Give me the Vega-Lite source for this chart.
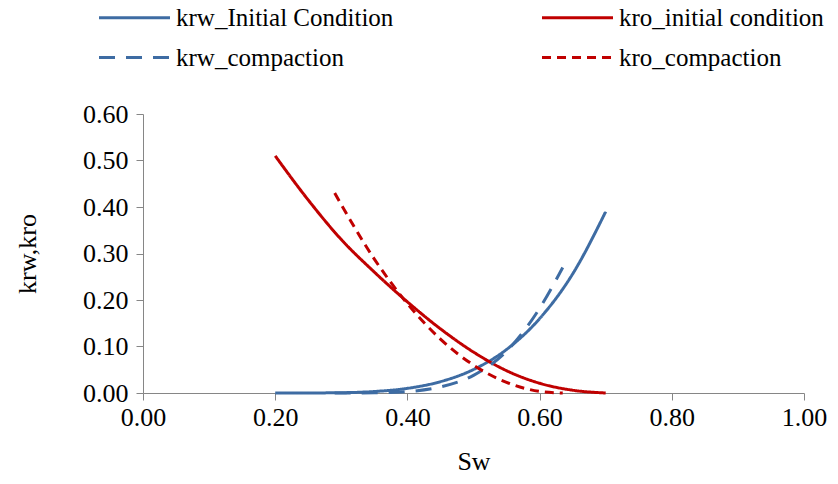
{
  "$schema": "https://vega.github.io/schema/vega-lite/v6.json",
  "width": 661,
  "height": 279,
  "autosize": {"type": "none"},
  "padding": {"left": 143, "top": 114, "right": 34, "bottom": 91},
  "background": "white",
  "config": {
    "view": {"stroke": null},
    "font": "Liberation Serif",
    "axis": {"labelFont": "Liberation Serif", "titleFont": "Liberation Serif", "labelColor": "black", "titleColor": "black", "titleFontWeight": "normal"},
    "legend": {"labelFont": "Liberation Serif"}
  },
  "data": {
    "values": [
      {"series": "krw_Initial Condition", "Sw": 0.2, "k": 0},
      {"series": "krw_Initial Condition", "Sw": 0.25, "k": 0.0001},
      {"series": "krw_Initial Condition", "Sw": 0.3, "k": 0.0006},
      {"series": "krw_Initial Condition", "Sw": 0.35, "k": 0.0032},
      {"series": "krw_Initial Condition", "Sw": 0.4, "k": 0.010},
      {"series": "krw_Initial Condition", "Sw": 0.45, "k": 0.0244},
      {"series": "krw_Initial Condition", "Sw": 0.5, "k": 0.0505},
      {"series": "krw_Initial Condition", "Sw": 0.55, "k": 0.0936},
      {"series": "krw_Initial Condition", "Sw": 0.6, "k": 0.16},
      {"series": "krw_Initial Condition", "Sw": 0.65, "k": 0.256},
      {"series": "krw_Initial Condition", "Sw": 0.7, "k": 0.39},
      {"series": "kro_initial condition", "Sw": 0.2, "k": 0.51},
      {"series": "kro_initial condition", "Sw": 0.25, "k": 0.415},
      {"series": "kro_initial condition", "Sw": 0.3, "k": 0.33},
      {"series": "kro_initial condition", "Sw": 0.35, "k": 0.26},
      {"series": "kro_initial condition", "Sw": 0.4, "k": 0.196},
      {"series": "kro_initial condition", "Sw": 0.45, "k": 0.138},
      {"series": "kro_initial condition", "Sw": 0.5, "k": 0.088},
      {"series": "kro_initial condition", "Sw": 0.55, "k": 0.048},
      {"series": "kro_initial condition", "Sw": 0.6, "k": 0.021},
      {"series": "kro_initial condition", "Sw": 0.65, "k": 0.006},
      {"series": "kro_initial condition", "Sw": 0.7, "k": 0},
      {"series": "krw_compaction", "Sw": 0.29, "k": 0},
      {"series": "krw_compaction", "Sw": 0.35, "k": 0.0003},
      {"series": "krw_compaction", "Sw": 0.4, "k": 0.003},
      {"series": "krw_compaction", "Sw": 0.45, "k": 0.013},
      {"series": "krw_compaction", "Sw": 0.5, "k": 0.038},
      {"series": "krw_compaction", "Sw": 0.55, "k": 0.09},
      {"series": "krw_compaction", "Sw": 0.6, "k": 0.182},
      {"series": "krw_compaction", "Sw": 0.635, "k": 0.27},
      {"series": "kro_compaction", "Sw": 0.29, "k": 0.43},
      {"series": "kro_compaction", "Sw": 0.35, "k": 0.288},
      {"series": "kro_compaction", "Sw": 0.4, "k": 0.192},
      {"series": "kro_compaction", "Sw": 0.45, "k": 0.116},
      {"series": "kro_compaction", "Sw": 0.5, "k": 0.06},
      {"series": "kro_compaction", "Sw": 0.55, "k": 0.023},
      {"series": "kro_compaction", "Sw": 0.6, "k": 0.0035},
      {"series": "kro_compaction", "Sw": 0.635, "k": 0}
    ]
  },
  "mark": {"type": "line", "strokeWidth": 3, "interpolate": "monotone"},
  "encoding": {
    "x": {
      "field": "Sw", "type": "quantitative",
      "scale": {"domain": [0, 1], "nice": false},
      "axis": {
        "title": "Sw", "values": [0, 0.2, 0.4, 0.6, 0.8, 1.0], "format": ".2f",
        "labelFont": "Liberation Serif", "titleFont": "Liberation Serif",
        "labelFontSize": 26, "titleFontSize": 26, "labelPadding": 4, "titlePadding": 18,
        "domainColor": "#868686", "tickColor": "#868686", "tickSize": 7, "grid": false, "labelFlush": false
      }
    },
    "y": {
      "field": "k", "type": "quantitative",
      "scale": {"domain": [0, 0.6], "nice": false},
      "axis": {
        "title": "krw,kro", "values": [0, 0.1, 0.2, 0.3, 0.4, 0.5, 0.6], "format": ".2f",
        "labelFont": "Liberation Serif", "titleFont": "Liberation Serif",
        "labelFontSize": 26, "titleFontSize": 26, "labelPadding": 8, "titlePadding": 42,
        "domainColor": "#868686", "tickColor": "#868686", "tickSize": 7, "grid": false
      }
    },
    "color": {
      "field": "series", "type": "nominal",
      "scale": {
        "domain": ["krw_Initial Condition", "kro_initial condition", "krw_compaction", "kro_compaction"],
        "range": ["#3E6CA3", "#C00000", "#3E6CA3", "#C00000"]
      },
      "legend": {
        "title": null, "orient": "none", "legendX": -28, "legendY": -116,
        "direction": "horizontal", "columns": 2, "columnPadding": 142, "rowPadding": 7,
        "symbolType": "M-2,0H2", "symbolSize": 1260, "symbolStrokeWidth": 3, "symbolFillColor": "transparent",
        "labelFont": "Liberation Serif", "labelFontSize": 25, "labelColor": "black", "labelOffset": 22, "labelLimit": 400, "padding": 0
      }
    },
    "strokeDash": {
      "field": "series", "type": "nominal",
      "scale": {
        "domain": ["krw_Initial Condition", "kro_initial condition", "krw_compaction", "kro_compaction"],
        "range": [[1, 0], [1, 0], [16, 11], [9, 6]]
      },
      "legend": null
    }
  }
}
